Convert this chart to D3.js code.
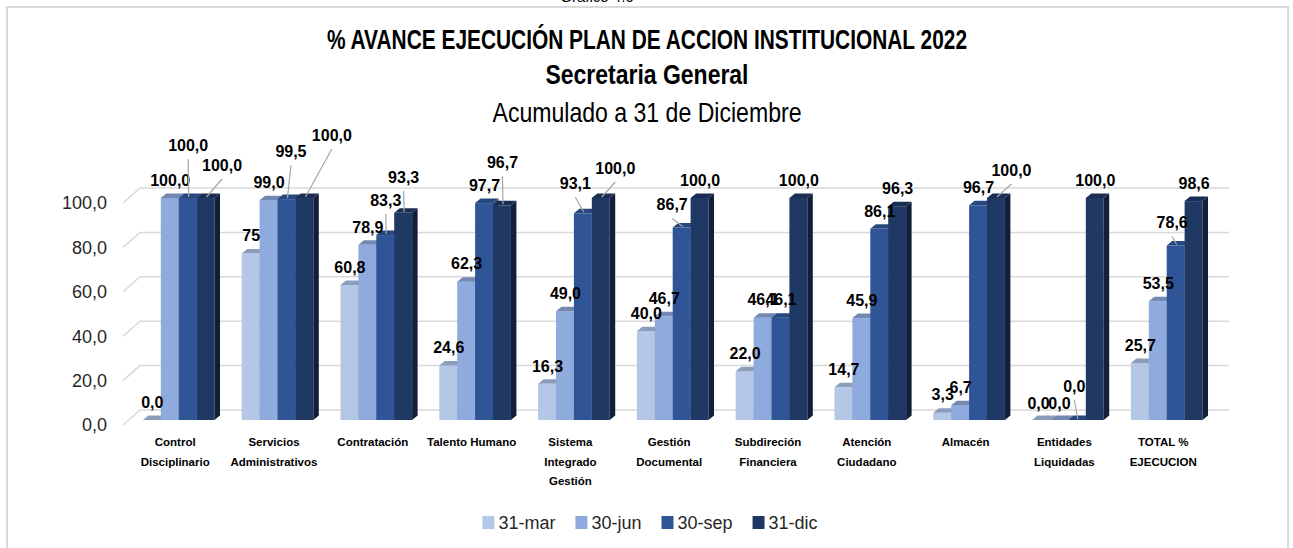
<!DOCTYPE html>
<html><head><meta charset="utf-8">
<script src="https://cdn.jsdelivr.net/npm/d3@7"></script>
<style>body{margin:0;background:#fff;} svg{display:block;}</style>
</head><body><svg id="c" width="1293" height="548"></svg>
<script>
// ---- data ----
const categories = ["Control\nDisciplinario","Servicios\nAdministrativos","Contratación","Talento Humano",
  "Sistema\nIntegrado\nGestión","Gestión\nDocumental","Subdireción\nFinanciera","Atención\nCiudadano",
  "Almacén","Entidades\nLiquidadas","TOTAL %\nEJECUCION"];
const seriesNames = ["31-mar","30-jun","30-sep","31-dic"];
const mar = [0, 75, 60.8, 24.6, 16.3, 40.0, 22.0, 14.7, 3.3, 0, 25.7];
const jun = [100, 99.0, 78.9, 62.3, 49.0, 46.7, 46.1, 45.9, 6.7, 0, 53.5];
const sep = [100, 99.5, 83.3, 97.7, 93.1, 86.7, 46.1, 86.1, 96.7, 0, 78.6];
const dic = [100, 100, 93.3, 96.7, 100, 100, 100, 96.3, 100, 100, 98.6];
const yTicks = [0, 20, 40, 60, 80, 100];
const labelOverrides = [{cat:1, s:0, text:"75"}];
// moved data labels, offsets from default spot (leader = draw leader line)
const labelMoves = [
  {cat:0,s:2,dx:0,dy:-35,leader:true},{cat:0,s:3,dx:16,dy:-15,leader:true},
  {cat:1,s:2,dx:4,dy:-30,leader:true},{cat:1,s:3,dx:27,dy:-45,leader:true},
  {cat:2,s:2,dx:0,dy:-17,leader:true},{cat:2,s:3,dx:0,dy:-18,leader:true},
  {cat:3,s:3,dx:0,dy:-25,leader:true},
  {cat:4,s:2,dx:-8,dy:-12,leader:true},{cat:4,s:3,dx:14,dy:-12,leader:true},
  {cat:5,s:2,dx:-10,dy:-5,leader:true},
  {cat:8,s:3,dx:15,dy:-10,leader:true},
  {cat:9,s:0,dx:-3,dy:1,leader:false},{cat:9,s:1,dx:0,dy:1,leader:false},
  {cat:9,s:2,dx:-3,dy:-16,leader:true},
  {cat:10,s:2,dx:-4,dy:-5,leader:true}
];
const values = [mar, jun, sep, dic];

// ---- style ----
const FONT = "'Liberation Sans', Arial, sans-serif";
const front = ["#b4c7e7","#8faadc","#2f5597","#203864"];
const topC  = ["#8c9dbb","#7489b2","#27487f","#1a2e55"];
const sideC = ["#91a4c6","#7690c0","#22437a","#131f38"];
const DX = 5.5, DY = -4.5;

const svg = d3.select("#c");
svg.append("rect").attr("x",7).attr("y",7).attr("width",1281).attr("height",560)
  .attr("fill","#fff").attr("stroke","#d9d9d9").attr("stroke-width",2);

svg.append("text").attr("x",597).attr("y",2).attr("text-anchor","middle")
  .attr("font-family",FONT).attr("font-size",15).attr("fill","#000").text("Gráfico 4.6");

// titles
const titles = [
  {t:"% AVANCE EJECUCIÓN PLAN DE ACCION INSTITUCIONAL 2022", y:49, w:640, b:true, fs:27},
  {t:"Secretaria General", y:84, w:203, b:true, fs:27},
  {t:"Acumulado a 31 de Diciembre", y:122, w:309, b:false, fs:28}
];
titles.forEach(d=>{
  svg.append("text").attr("x",647).attr("y",d.y).attr("text-anchor","middle")
    .attr("font-family",FONT).attr("font-size",d.fs).attr("font-weight",d.b?"bold":"normal")
    .attr("textLength",d.w).attr("lengthAdjust","spacingAndGlyphs").attr("fill","#000").text(d.t);
});

// scales
const x0 = d3.scaleBand().domain(categories).range([129.3, 1216.1]).paddingInner(0.275).paddingOuter(0.1375);
const x1 = d3.scaleBand().domain(seriesNames).range([0, x0.bandwidth()]);
const y = d3.scaleLinear().domain([0,100]).range([420,198]);
const fmtLocale = d3.formatLocale({decimal:",", thousands:".", grouping:[3], currency:["$",""]});
const fmt = fmtLocale.format(".1f");

// gridlines (3D)
const grid = svg.append("g").attr("stroke","#d9d9d9").attr("stroke-width",1.5).attr("fill","none");
yTicks.forEach(t=>{
  grid.append("path").attr("d",`M123,${y(t)+5}L140,${y(t)-10}L1229,${y(t)-10}`);
});
// y axis labels
svg.append("g").selectAll("text").data(yTicks).join("text")
  .attr("x",107).attr("y",t=>y(t)+5).attr("dy","0.36em").attr("text-anchor","end")
  .attr("font-family",FONT).attr("font-size",18).attr("fill","#262626").text(t=>fmt(t));

// bars
const bars = svg.append("g");
categories.forEach((c,ci)=>{
  seriesNames.forEach((s,si)=>{
    const v = values[si][ci];
    const x = x0(c)+x1(s), w = x1.bandwidth(), t = y(v), b = y(0);
    bars.append("rect").attr("x",x).attr("y",t).attr("width",w).attr("height",b-t).attr("fill",front[si]);
    bars.append("path").attr("d",`M${x},${t}L${x+DX},${t+DY}L${x+w+DX},${t+DY}L${x+w},${t}Z`).attr("fill",topC[si]);
    bars.append("path").attr("d",`M${x+w},${t}L${x+w+DX},${t+DY}L${x+w+DX},${b+DY}L${x+w},${b}Z`).attr("fill",sideC[si]);
  });
});

// data labels
const lab = svg.append("g");
categories.forEach((c,ci)=>{
  seriesNames.forEach((s,si)=>{
    const v = values[si][ci];
    const cx = x0(c)+x1(s)+x1.bandwidth()/2, top = y(v);
    let lx = cx+0.5, ly = top-18;
    const mv = labelMoves.find(m=>m.cat===ci && m.s===si);
    if (mv) {
      lx += mv.dx; ly += mv.dy;
      if (mv.leader) lab.append("line").attr("x1",lx).attr("y1",ly+14).attr("x2",cx+1).attr("y2",top-1)
        .attr("stroke","#a6a6a6").attr("stroke-width",1.2);
    }
    const ov = labelOverrides.find(o=>o.cat===ci && o.s===si);
    lab.append("text").attr("x",lx).attr("y",ly).attr("dy","0.36em").attr("text-anchor","middle")
      .attr("font-family",FONT).attr("font-size",16).attr("font-weight","bold").attr("fill","#000")
      .text(ov ? ov.text : fmt(v));
  });
});

// category labels
const cl = svg.append("g");
categories.forEach(c=>{
  const lines = c.split("\n");
  const cx = x0(c)+x0.bandwidth()/2-3.5;
  lines.forEach((ln,i)=>{
    cl.append("text").attr("x",cx).attr("y",442+i*19.5).attr("dy","0.36em").attr("text-anchor","middle")
      .attr("font-family",FONT).attr("font-size",11.5).attr("font-weight","bold").attr("fill","#000").text(ln);
  });
});

// legend
const lg = svg.append("g");
let items = [], lx = 0;
seriesNames.forEach((s,i)=>{
  const g = lg.append("g");
  g.append("rect").attr("x",0).attr("y",-6.5).attr("width",12).attr("height",13).attr("fill",front[i]);
  const t = g.append("text").attr("x",16).attr("y",0).attr("dy","0.36em")
    .attr("font-family",FONT).attr("font-size",18).attr("fill","#262626").text(s);
  const w = 16 + t.node().getComputedTextLength();
  items.push({g, x:lx}); lx += w + 20;
});
const total = lx - 20, start = 650 - total/2;
items.forEach(it=>it.g.attr("transform",`translate(${start+it.x},522.5)`));
</script></body></html>
